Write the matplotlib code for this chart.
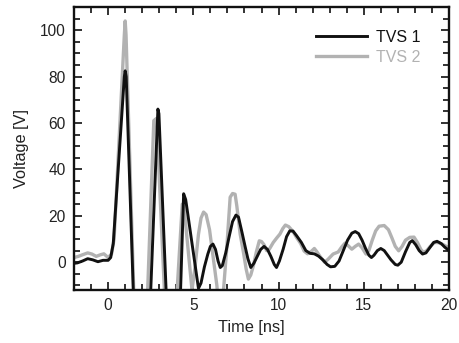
import matplotlib
matplotlib.use('Agg')
import matplotlib.pyplot as plt
from matplotlib.ticker import MultipleLocator

plt.rcParams['font.family'] = ['Liberation Sans', 'DejaVu Sans']

# TVS 1 waveform, time in ns / voltage in V
t_tvs1 = [-2.0, -1.8, -1.5, -1.2, -0.9, -0.6, -0.3, 0.0, 0.15, 0.3, 0.95, 1.0,
          1.06, 1.6, 2.0, 2.5, 2.92, 2.98, 3.5, 4.0, 4.25, 4.43, 4.55, 4.65,
          5.3, 5.45, 5.65, 5.85, 6.0, 6.15, 6.3, 6.45, 6.58, 6.7, 6.9, 7.1,
          7.3, 7.5, 7.65, 7.85, 8.03, 8.2, 8.37, 8.55, 8.75, 8.95, 9.15, 9.35,
          9.55, 9.75, 9.88, 10.05, 10.27, 10.47, 10.66, 10.85, 11.05, 11.34,
          11.6, 11.85, 12.1, 12.35, 12.6, 12.85, 13.05, 13.3, 13.55, 13.8,
          14.05, 14.3, 14.5, 14.7, 14.9, 15.1, 15.3, 15.45, 15.6, 15.8, 16.0,
          16.2, 16.4, 16.6, 16.85, 17.0, 17.2, 17.45, 17.7, 17.85, 18.05,
          18.25, 18.45, 18.65, 18.85, 19.1, 19.3, 19.55, 19.75, 20.0]
v_tvs1 = [-0.5, -0.3, 0.5, 1.5, 1.0, 0.2, 0.8, 0.8, 2.0, 8.0, 80.0, 82.5,
          80.0, -40.0, -40.0, -12.0, 66.0, 64.0, -30.0, -40.0, -12.0, 29.5,
          27.0, 22.0, -11.3, -9.0, -2.0, 3.5, 6.8, 7.8, 5.5, 0.5, -2.3, -1.5,
          4.0, 11.0, 17.5, 20.3, 19.4, 13.0, 7.0, 1.5, -2.3, -0.5, 2.5, 5.5,
          6.8, 5.5, 2.5, -1.0, -2.3, 0.5, 5.6, 11.0, 13.5, 13.4, 11.5, 8.5,
          5.0, 3.8, 3.6, 2.6, 1.0, -1.0, -2.0, -1.8, 0.5, 5.0, 9.5, 12.5,
          13.2, 12.3, 9.5, 6.0, 3.0, 2.0, 3.0, 5.0, 5.9, 5.0, 3.0, 1.0, -1.0,
          -1.3, 0.0, 4.5, 8.5, 9.3, 7.5, 5.0, 3.5, 4.0, 6.0, 8.5, 9.0, 8.0,
          6.5, 5.0]

# TVS 2 waveform
t_tvs2 = [-2.0, -1.75, -1.5, -1.2, -0.95, -0.7, -0.45, -0.25, 0.0, 0.2, 0.35,
          0.95, 1.0, 1.05, 1.5, 1.9, 2.32, 2.68, 2.84, 3.3, 3.7, 4.05, 4.35,
          4.45, 4.92, 5.1, 5.3, 5.45, 5.6, 5.75, 5.95, 6.38, 6.55, 6.77, 6.95,
          7.16, 7.3, 7.45, 7.55, 7.75, 7.94, 8.1, 8.23, 8.37, 8.52, 8.7, 8.87,
          9.0, 9.15, 9.3, 9.45, 9.69, 9.9, 10.08, 10.25, 10.4, 10.6, 10.85,
          11.05, 11.3, 11.5, 11.7, 11.9, 12.1, 12.25, 12.45, 12.7, 12.9, 13.2,
          13.5, 13.7, 13.9, 14.1, 14.3, 14.5, 14.7, 14.9, 15.13, 15.3, 15.5,
          15.7, 15.9, 16.2, 16.45, 16.65, 16.85, 17.05, 17.25, 17.45, 17.7,
          17.95, 18.15, 18.35, 18.5, 18.7, 18.9, 19.15, 19.4, 19.65, 19.85,
          20.0]
v_tvs2 = [2.0, 2.5, 3.2, 4.0, 3.5, 2.5, 3.2, 3.6, 2.0, 3.5, 10.0, 98.0, 104.0,
          98.0, -12.0, -40.0, -12.0, 61.0, 62.0, -12.0, -40.0, -12.0, 25.0,
          24.0, -12.0, -2.0, 12.0, 19.0, 21.6, 20.5, 14.0, -10.0, -25.0, -12.0,
          5.0, 28.0, 29.6, 29.3, 24.3, 12.0, 4.2, -3.0, -7.3, -5.5, -1.6, 4.5,
          9.2, 8.9, 7.5, 5.0, 5.5, 8.5, 10.5, 12.1, 14.5, 16.0, 15.3, 13.2,
          10.7, 8.0, 4.8, 3.6, 4.5, 5.9, 4.5, 2.3, 0.0, 1.2, 3.5, 4.4, 6.5,
          8.2, 7.0, 5.6, 6.8, 7.8, 6.2, 3.5, 5.0, 9.5, 13.5, 15.5, 15.8, 14.0,
          10.5, 6.8, 4.9, 6.8, 9.5, 10.7, 10.8, 8.5, 5.5, 4.2, 5.0, 6.8, 8.5,
          8.4, 7.6, 6.8, 6.3]

fig = plt.figure(figsize=(4.6, 3.43), dpi=100)
ax = fig.add_axes([0.161, 0.1545, 0.815, 0.825])

ax.plot(t_tvs2, v_tvs2, color='#b2b2b2', lw=2.4, label='TVS 2', zorder=2,
        solid_joinstyle='round')
ax.plot(t_tvs1, v_tvs1, color='#111111', lw=2.1, label='TVS 1', zorder=3,
        solid_joinstyle='round')

ax.set_xlim(-2, 20)
ax.set_ylim(-12, 110)
ax.xaxis.set_major_locator(MultipleLocator(5))
ax.xaxis.set_minor_locator(MultipleLocator(1))
ax.yaxis.set_major_locator(MultipleLocator(20))
ax.yaxis.set_minor_locator(MultipleLocator(5))
ax.tick_params(which='both', direction='in', top=True, right=True,
               width=1.3, labelsize=11.2, colors='#222222', pad=6)
ax.tick_params(which='major', length=6)
ax.tick_params(which='minor', length=4)
for sp in ax.spines.values():
    sp.set_linewidth(1.7)
    sp.set_color('#111111')

ax.set_xlabel('Time [ns]', fontsize=11.8, color='#222222')
ax.set_ylabel('Voltage [V]', fontsize=11.8, color='#222222', labelpad=8)
ax.xaxis.set_label_coords(0.473, -0.107, transform=ax.transAxes)
ax.xaxis.label.set_va('top')

handles, labels = ax.get_legend_handles_labels()
leg = ax.legend(handles[::-1], labels[::-1], loc='upper left',
                bbox_to_anchor=(0.607, 0.97), frameon=False, fontsize=11.5,
                handlelength=3.2, handletextpad=0.56, labelspacing=0.3)
for txt, col in zip(leg.get_texts(), ['#111111', '#b2b2b2']):
    txt.set_color(col)

fig.savefig('out.png', dpi=100)
